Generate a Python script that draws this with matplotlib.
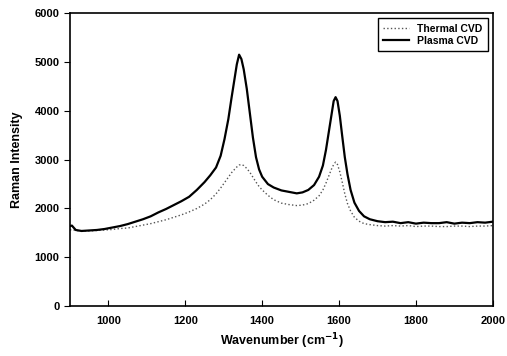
import matplotlib.pyplot as plt

plt.rcParams['font.family'] = ['Liberation Sans', 'DejaVu Sans']

# Wavenumber (cm^-1)
wn = [900, 905, 915, 930, 950, 970, 990, 1010, 1030, 1050, 1070, 1090, 1110, 1130,
      1150, 1170, 1190, 1210, 1230, 1250, 1265, 1280, 1292, 1302, 1312, 1320, 1328,
      1334, 1340, 1346, 1352, 1360, 1368, 1376, 1384, 1392, 1400, 1415, 1430, 1450,
      1470, 1490, 1505, 1520, 1535, 1548, 1558, 1566, 1574, 1580, 1586, 1591, 1596,
      1602, 1608, 1615, 1622, 1630, 1640, 1652, 1665, 1680, 1700, 1720, 1740, 1760,
      1780, 1800, 1820, 1840, 1860, 1880, 1900, 1920, 1940, 1960, 1980, 2000]

plasma = [1640, 1650, 1560, 1540, 1550, 1560, 1580, 1610, 1640, 1680, 1730, 1780, 1840, 1920,
          1990, 2070, 2150, 2240, 2380, 2540, 2680, 2840, 3080, 3420, 3830, 4250, 4650,
          4950, 5150, 5060, 4850, 4450, 3950, 3450, 3050, 2800, 2650, 2500, 2430, 2370,
          2340, 2310, 2330, 2380, 2480, 2650, 2880, 3200, 3600, 3900, 4200, 4280, 4200,
          3900, 3500, 3050, 2700, 2380, 2120, 1950, 1840, 1780, 1740, 1720, 1730, 1700,
          1720, 1690, 1710, 1700, 1700, 1720, 1690, 1710, 1700, 1720, 1710, 1730]

thermal = [1560, 1570, 1550, 1540, 1540, 1550, 1560, 1570, 1590, 1600, 1630, 1660, 1690, 1730,
           1770, 1820, 1870, 1930, 2000, 2090, 2180, 2300, 2420, 2530, 2640, 2730, 2800,
           2850, 2890, 2900, 2880, 2820, 2740, 2640, 2540, 2450, 2380, 2270, 2180, 2110,
           2080, 2060, 2070, 2100, 2170, 2260, 2380, 2520, 2680, 2800, 2900, 2950, 2900,
           2750, 2550, 2300, 2100, 1950, 1820, 1740, 1690, 1670, 1650, 1640, 1650, 1640,
           1650, 1630, 1640, 1640, 1630, 1630, 1640, 1640, 1630, 1640, 1640, 1650]

fig = plt.figure(figsize=(5.07, 3.56), dpi=100)
ax = fig.add_axes([0.138, 0.14, 0.834, 0.823])

ax.plot(wn, thermal, color='#555555', linestyle=':', linewidth=1.0, label='Thermal CVD')
ax.plot(wn, plasma, color='black', linestyle='-', linewidth=1.6, label='Plasma CVD')

ax.set_xlim(900, 2000)
ax.set_ylim(0, 6000)
ax.set_xticks([1000, 1200, 1400, 1600, 1800, 2000])
ax.set_yticks([0, 1000, 2000, 3000, 4000, 5000, 6000])
ax.tick_params(axis='x', direction='in', length=4, labelsize=8, pad=7)
ax.tick_params(axis='y', direction='out', length=4, labelsize=8)
for lab in ax.get_xticklabels() + ax.get_yticklabels():
    lab.set_fontweight('bold')
for s in ax.spines.values():
    s.set_linewidth(1.2)

ax.set_xlabel('Wavenumber (cm$^{\\mathbf{-1}}$)', fontsize=9, fontweight='bold', labelpad=4)
ax.set_ylabel('Raman Intensity', fontsize=9, fontweight='bold', labelpad=8)

leg = ax.legend(loc='upper right', prop={'weight': 'bold', 'size': 7.5},
                fancybox=False, edgecolor='black', framealpha=1, handlelength=2.5,
                borderpad=0.5, labelspacing=0.2)
leg.get_frame().set_linewidth(1.0)

fig.savefig('out.png', dpi=100)
